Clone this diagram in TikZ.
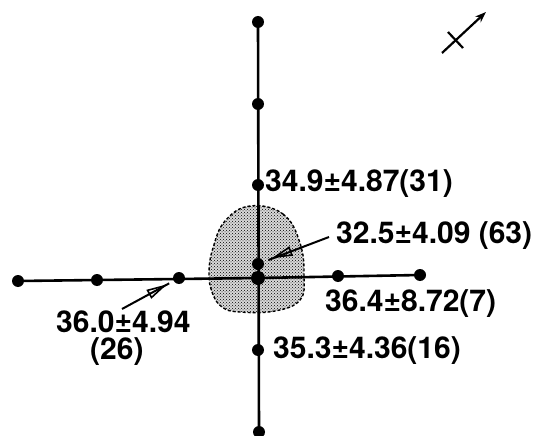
\documentclass[tikz,border=0pt]{standalone}
\usepackage{fontspec}
\setmainfont{TeX Gyre Heros}
\usetikzlibrary{patterns,arrows.meta,calc}
\begin{document}
\begin{tikzpicture}[x=1pt,y=-1pt,
  axis/.style={line width=2.6pt},
  pt/.style={circle,fill=black,inner sep=0pt,minimum size=12pt},
  bigpt/.style={circle,fill=black,inner sep=0pt,minimum size=14pt},
  val/.style={anchor=west,inner sep=0pt,font=\fontsize{30}{32}\selectfont\bfseries},
  lead/.style={line width=2pt},
  headline/.style={line width=1.6pt,line join=miter},
  blobstyle/.style={line width=1.4pt,densely dashed,pattern=crosshatch dots,pattern color=black}
  ]
\useasboundingbox (0,0) rectangle (547,436);
% shaded region
\fill[gray!30] plot[smooth cycle,tension=0.7] coordinates {(250,206) (283,214) (300,243) (304,276) (300,300) (275,311) (240,312) (222,307) (212,292) (209,272) (213,248) (225,221)};
\draw[blobstyle] plot[smooth cycle,tension=0.7] coordinates {(250,206) (283,214) (300,243) (304,276) (300,300) (275,311) (240,312) (222,307) (212,292) (209,272) (213,248) (225,221)};
% points
\node[pt] (n1) at (258,22) {};
\node[pt] (n2) at (258,104) {};
\node[pt] (n3) at (258,185) {};
\node[pt] (sd) at (258,264) {};
\node[bigpt] (cc) at (258,278) {};
\node[pt] (s1) at (258,350) {};
\node[pt] (s2) at (259,432) {};
\node[pt] (w1) at (18,281) {};
\node[pt] (w2) at (97,280) {};
\node[pt] (w3) at (179,278) {};
\node[pt] (e1) at (338,276) {};
\node[pt] (e2) at (420,275) {};
% axes
\draw[axis] (n1.center) -- (s2.center);
\draw[axis] (w1.center) -- (cc.center) -- (e2.center);
% labels
\node[val] (A) at (265,184) {34.9±4.87(31)};
\node[val] (B) at (336,236) {32.5±4.09 (63)};
\node[val] (C) at (325,304) {36.4±8.72(7)};
\node[val] (D) at (56,322) {36.0±4.94};
\node[val] (D2) at (90,352) {(26)};
\node[val] (E) at (273,351) {35.3±4.36(16)};
% leader arrows
\coordinate (bs) at (329,237);
\coordinate (bm) at (275,257);
\draw[lead,shorten >=5pt] (bs) -- (sd);
\draw[headline] ($(bm)!17pt!14:(bs)$) -- (bm) -- ($(bm)!17pt!-14:(bs)$) -- cycle;
\coordinate (ds) at (122,309);
\coordinate (dm) at (164,286);
\draw[lead,shorten >=5pt] (ds) -- (w3);
\draw[headline] ($(dm)!17pt!14:(ds)$) -- (dm) -- ($(dm)!17pt!-14:(ds)$) -- cycle;
% north arrow
\coordinate (ns) at (442,53);
\coordinate (ne) at (486,12);
\coordinate (c1) at (448,32);
\coordinate (c2) at (463,48);
\draw[line width=2.2pt,-{Stealth[length=11pt,width=8pt]}] (ns) -- (ne);
\draw[line width=2.2pt] (c1) -- (c2);
\end{tikzpicture}
\end{document}
